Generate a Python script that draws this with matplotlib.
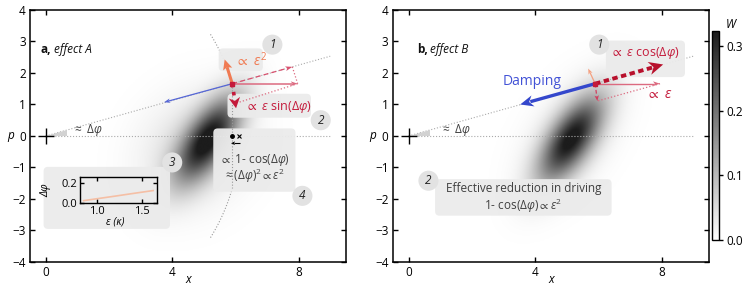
import numpy as np
import matplotlib
matplotlib.use('Agg')
import matplotlib.pyplot as plt
from matplotlib.colors import LinearSegmentedColormap
from matplotlib.patches import FancyBboxPatch, Polygon

plt.rcParams.update({
    'font.family': ['Open Sans', 'DejaVu Sans'],
    'font.size': 8.5,
    'mathtext.fontset': 'custom',
    'mathtext.rm': 'Open Sans',
    'mathtext.it': 'Open Sans:italic',
    'mathtext.bf': 'Open Sans:bold',
    'mathtext.sf': 'Open Sans',
    'mathtext.fallback': 'stixsans',
    'axes.linewidth': 1.1,
    'xtick.direction': 'in', 'ytick.direction': 'in',
    'xtick.top': True, 'ytick.right': True,
    'xtick.major.size': 3.5, 'ytick.major.size': 3.5,
    'xtick.major.width': 1.0, 'ytick.major.width': 1.0,
})

# axis data
xlim = (-0.5, 9.5)
ylim = (-4, 4)
xticks = [0, 4, 8]
yticks = [-4, -3, -2, -1, 0, 1, 2, 3, 4]
cbar_ticks = [0.0, 0.1, 0.2, 0.3]
w_max = 0.323

# Wigner function blobs: (center, sigmas, angle in deg, amplitude)
core_blob = ((5.12, -0.12), (1.05, 0.45), 57, 0.31)
halo_a = ((4.7, -0.45), (1.25, 1.05), 50, 0.05)
halo_b = ((5.1, -0.05), (1.4, 0.8), 57, 0.03)

# inset: phase lag vs drive
inset_eps = [0.85, 1.0, 1.2, 1.4, 1.63]
inset_dphi = [0.022, 0.041, 0.066, 0.092, 0.121]

# geometry of the phasor sketch
P = np.array([5.9, 1.66])
R = np.hypot(*P)
theta = np.degrees(np.arctan2(P[1], P[0]))
ray_end = 9.0

cmap = LinearSegmentedColormap.from_list('w', ['#ffffff', '#1c1c1c'])
grey_txt = '#404040'
box_fc = '#ebebeb'
coral = '#f07a52'
crim = '#c41a3b'
pink = '#dc6a80'
blue_thin = '#5566d6'
blue = '#3447cc'


def gauss(X, Y, blob):
    c, s, ang, amp = blob
    t = np.deg2rad(ang)
    dx, dy = X - c[0], Y - c[1]
    a = dx * np.cos(t) + dy * np.sin(t)
    b = -dx * np.sin(t) + dy * np.cos(t)
    return amp * np.exp(-0.5 * ((a / s[0])**2 + (b / s[1])**2))


def arrow(ax, p0, p1, color, lw, ls='-', hl=0.2, hw=0.14, notch=0.25, z=5):
    p0, p1 = np.asarray(p0, float), np.asarray(p1, float)
    d = p1 - p0
    u = d / np.hypot(*d)
    n = np.array([-u[1], u[0]])
    stop = p1 - u * hl * 0.8
    ax.plot([p0[0], stop[0]], [p0[1], stop[1]], color=color, lw=lw, ls=ls,
            solid_capstyle='butt', dash_capstyle='butt', zorder=z)
    base = p1 - u * hl
    head = [p1, base + n * hw / 2, p1 - u * hl * (1 - notch), base - n * hw / 2]
    ax.add_patch(Polygon(head, closed=True, fc=color, ec='none', zorder=z))


def box(ax, x0, y0, w, h):
    ax.add_patch(FancyBboxPatch((x0, y0), w, h, boxstyle='round,pad=0,rounding_size=0.14',
                                fc=box_fc, ec='none', alpha=0.95, zorder=2))


def num(ax, x, y, s):
    ax.text(x, y, s, ha='center', va='center', style='italic', fontsize=8.5, color='#222',
            zorder=6, bbox=dict(boxstyle='circle,pad=0.3', fc='#e2e2e2', ec='none'))


X, Y = np.meshgrid(np.linspace(*xlim, 500), np.linspace(*ylim, 400))
W_a = gauss(X, Y, core_blob) + gauss(X, Y, halo_a)
W_b = gauss(X, Y, core_blob) + gauss(X, Y, halo_b)

fig = plt.figure(figsize=(7.48, 2.91), dpi=100)
ax_a = fig.add_axes([0.0401, 0.0997, 0.4225, 0.866])
ax_b = fig.add_axes([0.525, 0.0997, 0.4229, 0.866])


def base(ax, W, lab, ttl, tx, dphi_x):
    im = ax.imshow(W, extent=(*xlim, *ylim), origin='lower', cmap=cmap, vmin=0, vmax=w_max,
                   interpolation='bilinear', aspect='auto', zorder=0)
    ax.set_xlim(*xlim)
    ax.set_ylim(*ylim)
    ax.set_xticks(xticks)
    ax.set_yticks(yticks)
    ax.tick_params(labelsize=8.5, pad=3)
    ax.set_xlabel('x', style='italic', fontsize=8.5, va='center')
    ax.xaxis.set_label_coords(0.5, -0.07)
    ax.set_ylabel('p', style='italic', fontsize=8.5, rotation=0, va='center')
    ax.yaxis.set_label_coords(-0.062, 0.5)
    # dotted guide lines
    ax.plot([0, ray_end], [0, 0], ls=':', color='#aaaaaa', lw=0.8, zorder=1)
    ax.plot([0, ray_end], [0, ray_end * np.tan(np.radians(theta))], ls=':', color='#aaaaaa',
            lw=0.8, zorder=1)
    wx = 0.68
    ax.add_patch(Polygon([(0, 0), (wx, 0), (wx, wx * np.tan(np.radians(theta)))],
                         fc='#d2d2d2', ec='none', zorder=1))
    ax.plot(0, 0, marker='+', ms=11, mew=1.0, color='k', zorder=3)
    ax.text(dphi_x, 0.2, r'$\approx\ \mathit{Δφ}$', fontsize=8.5, color=grey_txt, va='center')
    t = ax.text(tx, 2.75, lab, weight='bold', fontsize=8.5, va='center', color='#111')
    ax.annotate(ttl, xy=(1, 0.5), xycoords=t, xytext=(2, 0), textcoords='offset points',
                va='center', style='italic', fontsize=8.5, color='#111')
    return im


im = base(ax_a, W_a, 'a,', 'effect A', -0.16, 0.84)
base(ax_b, W_b, 'b,', 'effect B', 0.26, 1.0)

# ---------- panel a ----------
ax = ax_a
ang = np.radians(np.linspace(theta, 32, 40))
ax.plot(R * np.cos(ang), R * np.sin(ang), ls=':', color='#999999', lw=0.8, zorder=1)
ax.plot(R * np.cos(ang), -R * np.sin(ang), ls=':', color='#999999', lw=0.8, zorder=1)
ax.plot([P[0], P[0]], [P[1], -P[1]], ls=':', color='#999999', lw=0.8, zorder=3)

box(ax, 5.47, 2.06, 1.40, 0.72)
box(ax, 5.75, 0.58, 2.64, 0.76)
box(ax, 5.30, -1.77, 2.60, 2.01)
box(ax, -0.07, -2.95, 4.0, 1.97)

rad_tip = P + 1.974 * np.array([np.cos(np.radians(theta)), np.sin(np.radians(theta))])
hor_tip = np.array([7.97, P[1]])
down_tip = np.array([6.02, 0.88])
ax.plot([rad_tip[0], hor_tip[0]], [rad_tip[1], hor_tip[1]], ls=':', color=pink, lw=0.9, zorder=4)
ax.plot([hor_tip[0], 6.08], [hor_tip[1], 1.06], ls=':', color=pink, lw=0.9, zorder=4)
arrow(ax, P, (3.74, 1.07), blue_thin, 0.9, hl=0.2, hw=0.14)
arrow(ax, P, hor_tip, pink, 1.1, hl=0.22, hw=0.15)
arrow(ax, P, rad_tip, '#d9506e', 0.9, ls=(0, (4, 2.5)), hl=0.22, hw=0.15)
arrow(ax, P, (5.66, 2.43), coral, 2.2, hl=0.32, hw=0.3, notch=0.2)
arrow(ax, P, down_tip, crim, 2.6, ls=(0, (1.0, 1.3)), hl=0.34, hw=0.36, notch=0.3)
ax.plot(*P, marker='s', ms=2.5, color=crim, zorder=6)

ax.text(6.0, 2.4, r'$\propto\ \mathit{ε}^2$', color=coral, fontsize=10, va='center', zorder=5)
ax.text(6.3, 0.93, r'$\propto\ \mathit{ε}\ \mathrm{sin}(\mathit{Δφ})$', color=crim, fontsize=9,
        va='center', zorder=5)
ax.text(6.6, -0.76, r'$\propto\ \mathrm{1\text{-}\ cos}(\mathit{Δφ})$', color=grey_txt, fontsize=8.5,
        ha='center', va='center', zorder=5)
ax.text(6.6, -1.27, r'$\approx (\mathit{Δφ})^2 \propto \mathit{ε}^2$', color=grey_txt, fontsize=8.5,
        ha='center', va='center', zorder=5)
ax.plot(P[0], 0, 'o', ms=2.5, color='k', zorder=5)
ax.plot(R, 0, 'x', ms=3.5, mew=0.8, color='k', zorder=5)
arrow(ax, (R + 0.03, -0.23), (P[0] - 0.04, -0.23), 'k', 0.8, hl=0.13, hw=0.12)

num(ax, 7.17, 2.9, '1')
num(ax, 8.7, 0.5, '2')
num(ax, 4.0, -0.84, '3')
num(ax, 8.12, -1.9, '4')

# inset
ax_in = fig.add_axes([0.107, 0.301, 0.1025, 0.0893])
ax_in.set_facecolor('none')
ax_in.plot(inset_eps, inset_dphi, color='#f5bfa5', lw=1.2)
ax_in.set_xlim(0.81, 1.67)
ax_in.set_ylim(-0.005, 0.25)
ax_in.set_xticks([1.0, 1.5])
ax_in.set_yticks([0.0, 0.2])
ax_in.set_xticklabels(['1.0', '1.5'])
ax_in.set_yticklabels(['0.0', '0.2'])
ax_in.tick_params(labelsize=8, pad=2, length=3)
for s in ax_in.spines.values():
    s.set_linewidth(1.0)
ax_in.set_xlabel('ε (κ)', style='italic', fontsize=7.5)
ax_in.xaxis.label.set_va('center')
ax_in.xaxis.set_label_coords(0.46, -0.7)
ax_in.set_ylabel('Δφ', style='italic', fontsize=8)
ax_in.yaxis.set_label_coords(-0.37, 0.5)

# ---------- panel b ----------
ax = ax_b
box(ax, 6.24, 1.87, 2.50, 1.16)
box(ax, 0.84, -2.53, 5.58, 1.16)
hor_tip_b = np.array([7.95, P[1]])
ax.plot([hor_tip_b[0], 5.97], [hor_tip_b[1], 1.11], ls=':', color=pink, lw=0.9, zorder=4)
arrow(ax, P, hor_tip_b, pink, 1.0, hl=0.22, hw=0.15)
arrow(ax, P, (5.68, 2.14), '#f4a080', 0.9, hl=0.18, hw=0.14)
arrow(ax, P, (5.97, 1.11), '#d04060', 0.9, ls=(0, (3, 2)), hl=0.18, hw=0.14)
arrow(ax, P, (3.53, 1.0), blue, 2.4, hl=0.42, hw=0.36, notch=0.3)
arrow(ax, P, (8.05, 2.27), '#b8102c', 2.8, ls=(0, (1.4, 0.9)), hl=0.45, hw=0.42, notch=0.3)
ax.plot(*P, marker='s', ms=2.2, color=crim, zorder=6)

ax.text(3.92, 1.74, 'Damping', color='#4252d6', fontsize=10, ha='center', va='center', zorder=5)
ax.text(6.37, 2.64, r'$\propto\ \mathit{ε}\ \mathrm{cos}(\mathit{Δφ})$', color=crim, fontsize=9,
        va='center', zorder=5)
ax.text(7.5, 1.32, r'$\propto\ \mathit{ε}$', color=crim, fontsize=10, va='center', zorder=5)
ax.text(3.63, -1.66, 'Effective reduction in driving', color=grey_txt, fontsize=8.5,
        ha='center', va='center', zorder=5)
ax.text(3.63, -2.22, r'$\mathrm{1\text{-}\ cos}(\mathit{Δφ}) \propto \mathit{ε}^2$', color=grey_txt,
        fontsize=8.5, ha='center', va='center', zorder=5)
num(ax, 6.03, 2.9, '1')
num(ax, 0.63, -1.42, '2')

# colorbar
cax = fig.add_axes([0.952, 0.175, 0.0094, 0.718])
cb = fig.colorbar(im, cax=cax, ticks=cbar_ticks)
cb.ax.tick_params(direction='out', length=3, labelsize=8.5, right=True, pad=2)
cb.ax.set_yticklabels(['0.0', '0.1', '0.2', '0.3'])
cb.outline.set_linewidth(1.0)
fig.text(731 / 748, 1 - 25 / 291, 'W', style='italic', fontsize=8.5, ha='center', va='center')

fig.savefig('out.png', dpi=100)
